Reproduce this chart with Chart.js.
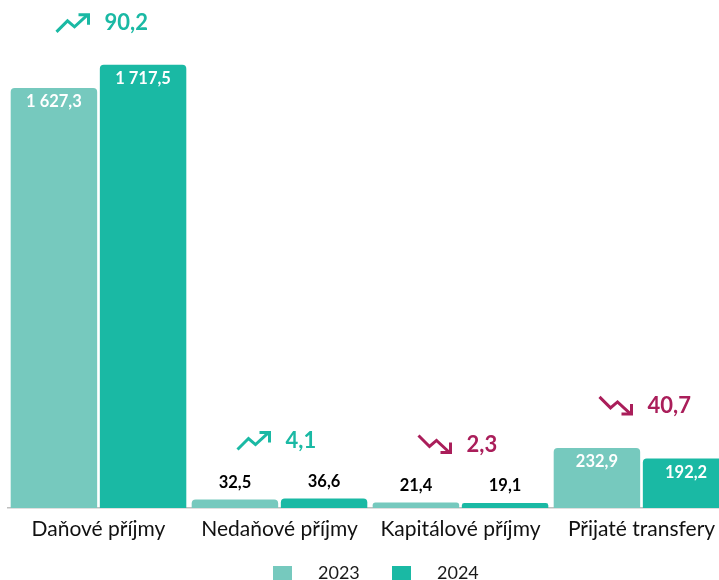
<!DOCTYPE html>
<html>
<head>
<meta charset="utf-8">
<script src="https://cdn.jsdelivr.net/npm/chart.js@4.4.0/dist/chart.umd.min.js"></script>
<style>
  html, body { margin: 0; padding: 0; background: #fff; overflow: hidden; }
  #wrap { width: 719px; height: 580px; overflow: hidden; }
</style>
</head>
<body>
<div id="wrap"><canvas id="revChart" width="745" height="580"></canvas></div>
<script>
const categories = ['Daňové příjmy', 'Nedaňové příjmy', 'Kapitálové příjmy', 'Přijaté transfery'];
const seriesLabels = ['2023', '2024'];
const values2023 = [1627.3, 32.5, 21.4, 232.9];
const values2024 = [1717.5, 36.6, 19.1, 192.2];

const FONT = 'Lato, "Open Sans", sans-serif';
const colUp = 'rgb(26, 185, 164)';
const colDown = 'rgb(170, 30, 90)';

// "1 627,3" style
function fmt(v) {
    const parts = v.toFixed(1).split('.');
    return parts[0].replace(/\B(?=(\d{3})+(?!\d))/g, ' ') + ',' + parts[1];
}

function drawTrend(ctx, x, y, up, color) {
    // x,y = left/center of icon, icon ~33x18
    ctx.save();
    ctx.strokeStyle = color;
    ctx.lineWidth = 3;
    ctx.lineJoin = 'miter';
    ctx.lineCap = 'butt';
    ctx.beginPath();
    if (up) {
        ctx.moveTo(x, y + 9);
        ctx.lineTo(x + 11, y - 2);
        ctx.lineTo(x + 18, y + 4);
        ctx.lineTo(x + 31, y - 8);
        ctx.stroke();
        ctx.beginPath();
        ctx.moveTo(x + 22, y - 8);
        ctx.lineTo(x + 32, y - 8);
        ctx.lineTo(x + 32, y + 2);
    } else {
        ctx.moveTo(x, y - 9);
        ctx.lineTo(x + 11, y + 2);
        ctx.lineTo(x + 18, y - 4);
        ctx.lineTo(x + 31, y + 8);
        ctx.stroke();
        ctx.beginPath();
        ctx.moveTo(x + 32, y - 2);
        ctx.lineTo(x + 32, y + 8);
        ctx.lineTo(x + 22, y + 8);
    }
    ctx.stroke();
    ctx.restore();
}

const labelPlugin = {
    id: 'labelPlugin',
    afterDatasetsDraw(chart) {
        const ctx = chart.ctx;
        const yScale = chart.scales.y;
        const xScale = chart.scales.x;
        const base = yScale.getPixelForValue(0);

        // value labels on bars
        ctx.save();
        ctx.font = 'bold 16.5px ' + FONT;
        ctx.textAlign = 'center';
        ctx.textBaseline = 'middle';
        chart.data.datasets.forEach((ds, di) => {
            chart.getDatasetMeta(di).data.forEach((bar, i) => {
                const v = ds.data[i];
                const inside = base - bar.y > 30;
                ctx.fillStyle = inside ? '#ffffff' : '#000000';
                ctx.fillText(fmt(v), bar.x, inside ? bar.y + 14 : bar.y - 17);
            });
        });
        ctx.restore();

        // change annotations
        categories.forEach((c, i) => {
            const a = values2023[i], b = values2024[i];
            const diff = b - a;
            const up = diff >= 0;
            const top = yScale.getPixelForValue(Math.max(a, b));
            const inside = base - top > 30;
            const cy = top - (inside ? 42 : 58);
            const cx = xScale.getPixelForValue(i);
            const color = up ? colUp : colDown;
            drawTrend(ctx, cx - 42, cy, up, color);
            ctx.save();
            ctx.font = 'bold 22px ' + FONT;
            ctx.fillStyle = color;
            ctx.textAlign = 'left';
            ctx.textBaseline = 'middle';
            ctx.fillText(fmt(Math.abs(diff)), cx + 6, cy);
            ctx.restore();
        });

        // legend
        ctx.save();
        ctx.font = '18px ' + FONT;
        ctx.textBaseline = 'middle';
        ctx.textAlign = 'left';
        const legX = [273, 392];
        chart.data.datasets.forEach((ds, di) => {
            ctx.fillStyle = ds.backgroundColor;
            ctx.fillRect(legX[di], 566, 19, 14);
            ctx.fillStyle = '#1a1a1a';
            ctx.fillText(ds.label, legX[di] + 45, 573);
        });
        ctx.restore();
    }
};

const chart = new Chart(document.getElementById('revChart'), {
    type: 'bar',
    data: {
        labels: categories,
        datasets: [
            {
                label: seriesLabels[0],
                data: values2023,
                backgroundColor: 'rgb(118, 201, 190)',
                borderRadius: { topLeft: 4, topRight: 4 },
                borderSkipped: 'bottom',
                categoryPercentage: 0.985,
                barPercentage: 0.97
            },
            {
                label: seriesLabels[1],
                data: values2024,
                backgroundColor: 'rgb(26, 185, 164)',
                borderRadius: { topLeft: 4, topRight: 4 },
                borderSkipped: 'bottom',
                categoryPercentage: 0.985,
                barPercentage: 0.97
            }
        ]
    },
    options: {
        responsive: false,
        animation: false,
        layout: { padding: { left: 8, right: 13, top: 10, bottom: 32 } },
        scales: {
            x: {
                grid: { display: false },
                border: { display: true, color: '#bfbfbf', width: 1.5 },
                ticks: { color: '#111111', padding: 1, font: { family: FONT, size: 21 } },
                afterFit(axis) { axis.height = 40; }
            },
            y: {
                display: false,
                min: 0,
                max: 1930
            }
        },
        plugins: {
            legend: { display: false },
            tooltip: { enabled: false }
        }
    },
    plugins: [labelPlugin]
});
</script>
</body>
</html>
